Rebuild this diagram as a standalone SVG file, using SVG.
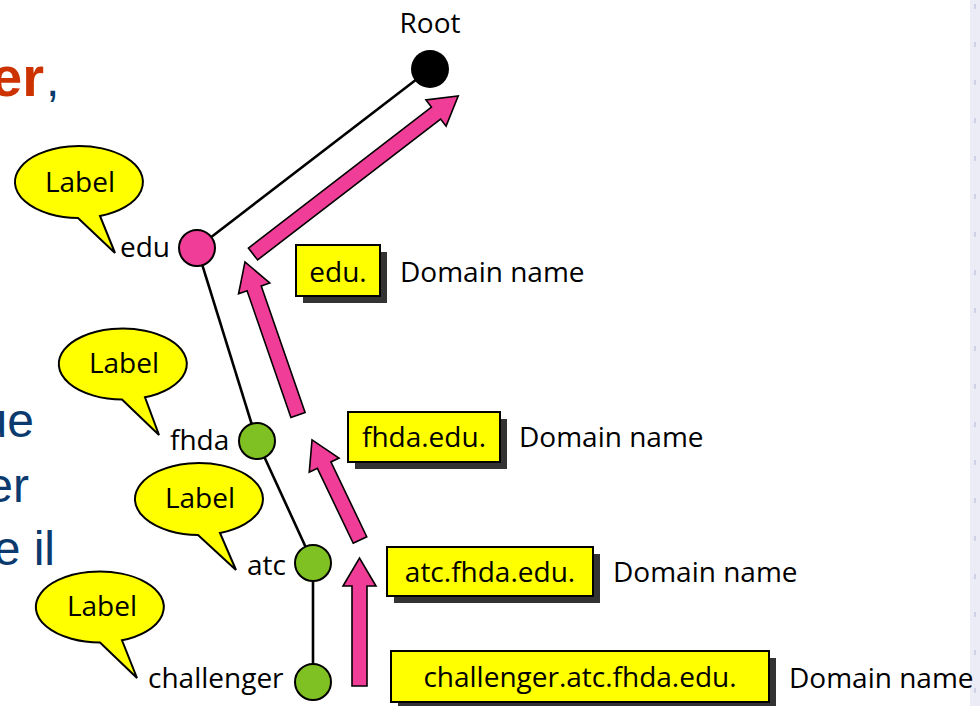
<svg xmlns="http://www.w3.org/2000/svg" width="980" height="706" viewBox="0 0 980 706">
  <style>
    .t { font-family: "Open Sans", "Noto Sans", sans-serif; font-size: 28px; fill: #000; }
    .mid { text-anchor: middle; }
    .slide { font-family: "Liberation Sans", Arial, sans-serif; font-size: 48px; fill: #0b3a6e; text-anchor: end; }
    .edge { stroke: #000; stroke-width: 2.6; fill: none; }
    .node { stroke: #000; stroke-width: 2; }
    .green { fill: #7fc022; }
    .arrow { fill: #f03d97; stroke: #000; stroke-width: 1.6; stroke-linejoin: miter; }
    .bubble { fill: #ffff00; stroke: #000; stroke-width: 2; stroke-linejoin: miter; }
    .box { fill: #ffff00; stroke: #000; stroke-width: 2; }
    .shadow { fill: #333; }
  </style>
  <rect x="0" y="0" width="980" height="706" fill="#fff"/>
  <!-- slide background band on the right -->
  <g id="slide-edge">
    <rect x="970" y="0" width="10" height="706" fill="#ececf6"/>
    <line x1="975" y1="4" x2="975" y2="706" stroke="#cfcfe6" stroke-width="2" stroke-dasharray="5 33"/>
  </g>
  <!-- partial slide text on the left -->
  <g id="slide-text">
    <text x="44" y="96" font-family="Liberation Sans, Arial, sans-serif" font-size="56" font-weight="bold" fill="#cc3300" text-anchor="end">er</text>
    <text x="46" y="96" font-family="Liberation Sans, Arial, sans-serif" font-size="48" fill="#0b3a6e">,</text>
    <text class="slide" x="34" y="437">ue</text>
    <text class="slide" x="29" y="502">er</text>
    <text class="slide" x="55" y="565">e il</text>
  </g>

  <!-- connectors -->
  <g id="connectors">
    <line class="edge" x1="430" y1="69" x2="197" y2="248"/>
    <line class="edge" x1="197" y1="248" x2="257" y2="441"/>
    <line class="edge" x1="257" y1="441" x2="313" y2="563"/>
    <line class="edge" x1="313" y1="563" x2="313" y2="682"/>
    <!-- pink resolution arrows -->
    <polygon class="arrow" transform="translate(253,254) rotate(-37.6)" points="0,-7.5 231,-7.5 231,-16.5 259,0 231,16.5 231,7.5 0,7.5"/>
    <polygon class="arrow" transform="translate(298,415) rotate(-109.1)" points="0,-7.5 134,-7.5 134,-16.5 162,0 134,16.5 134,7.5 0,7.5"/>
    <polygon class="arrow" transform="translate(360,540) rotate(-115.6)" points="0,-7.5 83,-7.5 83,-16.5 111,0 83,16.5 83,7.5 0,7.5"/>
    <polygon class="arrow" transform="translate(359.5,686) rotate(-90)" points="0,-7.5 100,-7.5 100,-16.5 128,0 100,16.5 100,7.5 0,7.5"/>
  </g>

  <!-- tree nodes -->
  <g id="root">
    <circle cx="430" cy="69" r="19" fill="#000"/>
    <text class="t mid" x="430" y="33">Root</text>
  </g>
  <g id="edu">
    <circle class="node" cx="197" cy="248" r="18" fill="#f03d97"/>
    <text class="t" x="120" y="257">edu</text>
  </g>
  <g id="fhda">
    <circle class="node green" cx="257" cy="441" r="18"/>
    <text class="t" x="170" y="450">fhda</text>
  </g>
  <g id="atc">
    <circle class="node green" cx="313" cy="563" r="18"/>
    <text class="t" x="247" y="575">atc</text>
  </g>
  <g id="challenger">
    <circle class="node green" cx="313" cy="682" r="18"/>
    <text class="t" x="148" y="688">challenger</text>
  </g>

  <!-- label bubbles -->
  <g id="bubble-edu">
    <path class="bubble" d="M100,216 A64,36 0 1 0 78,218 L115,253 Z"/>
    <text class="t mid" x="80" y="192">Label</text>
  </g>
  <g id="bubble-fhda">
    <path class="bubble" d="M145,397.3 A64,35.5 0 1 0 122,399.5 L159,435 Z"/>
    <text class="t mid" x="124" y="373">Label</text>
  </g>
  <g id="bubble-atc">
    <path class="bubble" d="M220,533 A64,36 0 1 0 198,535 L236,570 Z"/>
    <text class="t mid" x="200" y="508">Label</text>
  </g>
  <g id="bubble-challenger">
    <path class="bubble" d="M122,640.3 A64,35.5 0 1 0 100,642.5 L137,678 Z"/>
    <text class="t mid" x="102" y="616">Label</text>
  </g>

  <!-- domain name boxes -->
  <g id="dn-edu">
    <rect class="shadow" x="303" y="252" width="84" height="51"/>
    <rect class="box" x="296" y="245" width="84" height="51"/>
    <text class="t mid" x="338" y="282">edu.</text>
    <text class="t" x="400" y="282">Domain name</text>
  </g>
  <g id="dn-fhda">
    <rect class="shadow" x="355" y="419" width="152" height="50"/>
    <rect class="box" x="348" y="412" width="152" height="50"/>
    <text class="t mid" x="424" y="447">fhda.edu.</text>
    <text class="t" x="519" y="447">Domain name</text>
  </g>
  <g id="dn-atc">
    <rect class="shadow" x="394" y="554" width="206" height="49"/>
    <rect class="box" x="387" y="547" width="206" height="49"/>
    <text class="t mid" x="490" y="582">atc.fhda.edu.</text>
    <text class="t" x="613" y="582">Domain name</text>
  </g>
  <g id="dn-challenger">
    <rect class="shadow" x="398" y="658" width="378" height="51"/>
    <rect class="box" x="391" y="651" width="378" height="51"/>
    <text class="t mid" x="580" y="687">challenger.atc.fhda.edu.</text>
    <text class="t" x="789" y="688">Domain name</text>
  </g>
</svg>
